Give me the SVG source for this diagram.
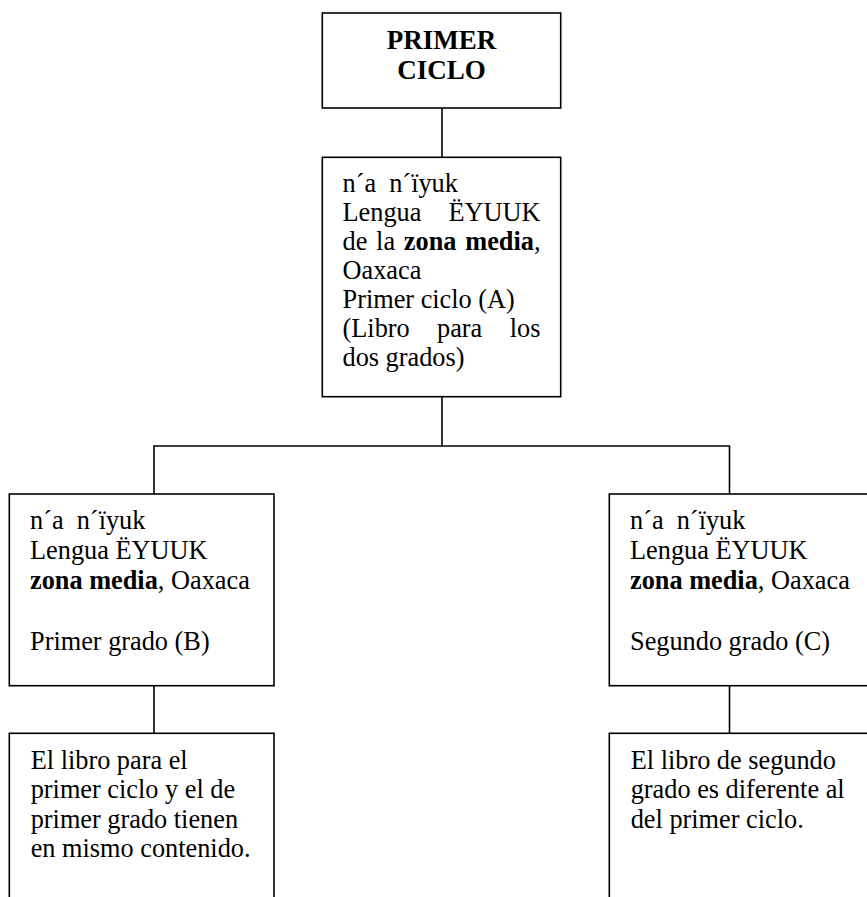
<svg xmlns="http://www.w3.org/2000/svg" width="867" height="897" viewBox="0 0 867 897">
<style>
.box{fill:#fff;stroke:#000;stroke-width:1.6}
.ln{fill:none;stroke:#000;stroke-width:1.6}
text{font-family:"Liberation Serif","Times New Roman",serif;font-size:26.3px;fill:#000;white-space:pre}
.b{font-weight:bold}
.t{font-weight:bold;font-size:27px;text-anchor:middle}
.e{text-anchor:end}
</style>
<rect width="867" height="897" fill="#fff"/>
<g id="connectors">
<line class="ln" x1="442" y1="108" x2="442" y2="157"/>
<line class="ln" x1="442" y1="397" x2="442" y2="446"/>
<polyline class="ln" points="154,494 154,446 729.5,446 729.5,494"/>
<line class="ln" x1="154" y1="686" x2="154" y2="733"/>
<line class="ln" x1="729.5" y1="686" x2="729.5" y2="733"/>
</g>
<g id="n-primer-ciclo">
<rect class="box" x="322.3" y="13" width="238.4" height="95"/>
<text class="t" x="441.5" y="49">PRIMER</text>
<text class="t" x="441.5" y="79">CICLO</text>
</g>
<g id="n-a">
<rect class="box" x="322.3" y="157.3" width="238.4" height="239.4"/>
<text x="342.5" y="192.3">n´a  n´ïyuk</text>
<text x="342.5" y="221.3">Lengua</text>
<text class="e" x="540.5" y="221.3">ËYUUK</text>
<text x="342.5" y="250.3" style="word-spacing:2.2px">de la <tspan class="b">zona media</tspan>,</text>
<text x="342.5" y="279.3">Oaxaca</text>
<text x="342.5" y="308.3">Primer ciclo (A)</text>
<text x="342.5" y="337.3">(Libro</text>
<text x="437" y="337.3">para</text>
<text class="e" x="540.5" y="337.3">los</text>
<text x="342.5" y="366.3">dos grados)</text>
</g>
<g id="n-b">
<rect class="box" x="9.3" y="494" width="264.7" height="191.7"/>
<text x="30" y="529.3">n´a  n´ïyuk</text>
<text x="30" y="559">Lengua ËYUUK</text>
<text x="30" y="588.7"><tspan class="b">zona media</tspan>, Oaxaca</text>
<text x="30" y="650">Primer grado (B)</text>
</g>
<g id="n-c">
<rect class="box" x="609.3" y="494" width="270" height="191.7"/>
<text x="630" y="529.3">n´a  n´ïyuk</text>
<text x="630" y="559">Lengua ËYUUK</text>
<text x="630" y="588.7"><tspan class="b">zona media</tspan>, Oaxaca</text>
<text x="630" y="650">Segundo grado (C)</text>
</g>
<g id="n-b-note">
<rect class="box" x="9.3" y="733.3" width="264.7" height="200"/>
<text x="30.7" y="769">El libro para el</text>
<text x="30.7" y="798.3">primer ciclo y el de</text>
<text x="30.7" y="827.6">primer grado tienen</text>
<text x="30.7" y="856.9">en mismo contenido.</text>
</g>
<g id="n-c-note">
<rect class="box" x="609.3" y="733.3" width="270" height="200"/>
<text x="630.7" y="769">El libro de segundo</text>
<text x="630.7" y="798.3">grado es diferente al</text>
<text x="630.7" y="827.6">del primer ciclo.</text>
</g>
</svg>
